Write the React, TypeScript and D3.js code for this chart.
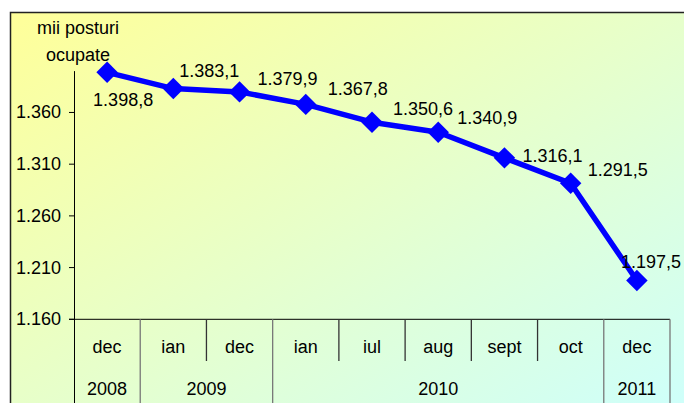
import React, { useEffect, useRef } from 'react';
import * as d3 from 'd3';

// mii posturi ocupate, dec 2008 - dec 2011
const months = ['dec', 'ian', 'dec', 'ian', 'iul', 'aug', 'sept', 'oct', 'dec'];
const years = ['2008', '2009', '2010', '2011'];
const yearSpans = [1, 2, 5, 1];
const values = [1398.8, 1383.1, 1379.9, 1367.8, 1350.6, 1340.9, 1316.1, 1291.5, 1197.5];
const yTicks = [1160, 1210, 1260, 1310, 1360];
const titleLines = ['mii posturi', 'ocupate'];

// hand placed data labels (relative to the marker), like in the original
const labelOffsets: [number, number][] = [
  [-14, 34], [6, -12], [18, -7], [22, -9], [21, -7], [19, -8], [18, 4], [17, -7], [-16, -13],
];

const roLocale = d3.formatLocale({ decimal: ',', thousands: '.', grouping: [3], currency: ['', ''] });
const fmtTick = roLocale.format(',.0f');
const fmtVal = roLocale.format(',.1f');

const W = 684;
const H = 403;
const FONT = '"Liberation Sans", Arial, sans-serif';

const App = () => {
  const ref = useRef<SVGSVGElement>(null);

  useEffect(() => {
    if (!ref.current) return;
    const svg = d3.select(ref.current);
    svg.selectAll('*').remove();

    const left = 74;
    const right = 670;
    const axisY = 319.3;
    const monthBottom = 361;

    const x = d3.scaleBand<number>().domain(d3.range(values.length)).range([left, right]).padding(0);
    const y = d3.scaleLinear().domain([1160, 1400]).range([axisY, 71.1]);

    const defs = svg.append('defs');
    const grad = defs
      .append('linearGradient')
      .attr('id', 'bg')
      .attr('x1', 0)
      .attr('y1', 0)
      .attr('x2', 1)
      .attr('y2', 1);
    grad.append('stop').attr('offset', '0%').attr('stop-color', '#FFFF99');
    grad.append('stop').attr('offset', '50%').attr('stop-color', '#E6FFCC');
    grad.append('stop').attr('offset', '100%').attr('stop-color', '#CCFFFF');

    // chart area frame
    svg
      .append('rect')
      .attr('x', 10.5)
      .attr('y', 12.5)
      .attr('width', 690)
      .attr('height', 420)
      .attr('fill', 'url(#bg)')
      .attr('stroke', '#222')
      .attr('stroke-width', 1.5);

    const g = svg.append('g').attr('font-family', FONT).attr('font-size', 18).attr('fill', '#000');

    // y axis
    g.append('line')
      .attr('x1', left + 0.5)
      .attr('x2', left + 0.5)
      .attr('y1', y(1400))
      .attr('y2', H)
      .attr('stroke', '#000');

    yTicks.forEach((t) => {
      g.append('line')
        .attr('x1', left - 5)
        .attr('x2', left)
        .attr('y1', y(t))
        .attr('y2', y(t))
        .attr('stroke', '#000');
      g.append('text')
        .attr('x', 61)
        .attr('y', y(t) + 6)
        .attr('text-anchor', 'end')
        .text(fmtTick(t));
    });

    // x axis + category table
    g.append('line')
      .attr('x1', left - 5)
      .attr('x2', right)
      .attr('y1', axisY)
      .attr('y2', axisY)
      .attr('stroke', '#000');

    const yearEdges = new Set<number>();
    let acc = 0;
    yearSpans.forEach((s) => {
      acc += s;
      yearEdges.add(acc);
    });

    months.forEach((m, i) => {
      const edge = i + 1;
      const xe = (x(i) as number) + x.bandwidth();
      const full = yearEdges.has(edge);
      g.append('line')
        .attr('x1', xe)
        .attr('x2', xe)
        .attr('y1', axisY)
        .attr('y2', full ? H : monthBottom)
        .attr('stroke', full ? '#777' : '#333')
        .attr('stroke-width', 1.3);
      g.append('text')
        .attr('x', (x(i) as number) + x.bandwidth() / 2)
        .attr('y', 353)
        .attr('text-anchor', 'middle')
        .text(m);
    });

    let start = 0;
    years.forEach((yr, k) => {
      const span = yearSpans[k];
      const x0 = x(start) as number;
      const x1 = (x(start + span - 1) as number) + x.bandwidth();
      g.append('text')
        .attr('x', (x0 + x1) / 2)
        .attr('y', 395)
        .attr('text-anchor', 'middle')
        .text(yr);
      start += span;
    });

    // unit title
    titleLines.forEach((t, i) => {
      g.append('text')
        .attr('x', 78)
        .attr('y', 34 + i * 27)
        .attr('text-anchor', 'middle')
        .text(t);
    });

    // series
    const cx = (i: number) => (x(i) as number) + x.bandwidth() / 2;
    const line = d3
      .line<number>()
      .x((_, i) => cx(i))
      .y((d) => y(d));

    g.append('path')
      .datum(values)
      .attr('d', line)
      .attr('fill', 'none')
      .attr('stroke', '#0000FF')
      .attr('stroke-width', 5.5)
      .attr('stroke-linejoin', 'round');

    const marker = d3.symbol().type(d3.symbolSquare).size(230);
    g.selectAll('path.marker')
      .data(values)
      .join('path')
      .attr('class', 'marker')
      .attr('d', marker)
      .attr('transform', (d, i) => `translate(${cx(i)},${y(d)}) rotate(45)`)
      .attr('fill', '#0000FF');

    g.selectAll('text.lbl')
      .data(values)
      .join('text')
      .attr('class', 'lbl')
      .attr('x', (d, i) => cx(i) + labelOffsets[i][0])
      .attr('y', (d, i) => y(d) + labelOffsets[i][1])
      .text((d) => fmtVal(d));
  }, []);

  return (
    <svg
      ref={ref}
      width={W}
      height={H}
      style={{ position: 'absolute', left: 0, top: 0, background: '#fff' }}
    />
  );
};

export default App;
